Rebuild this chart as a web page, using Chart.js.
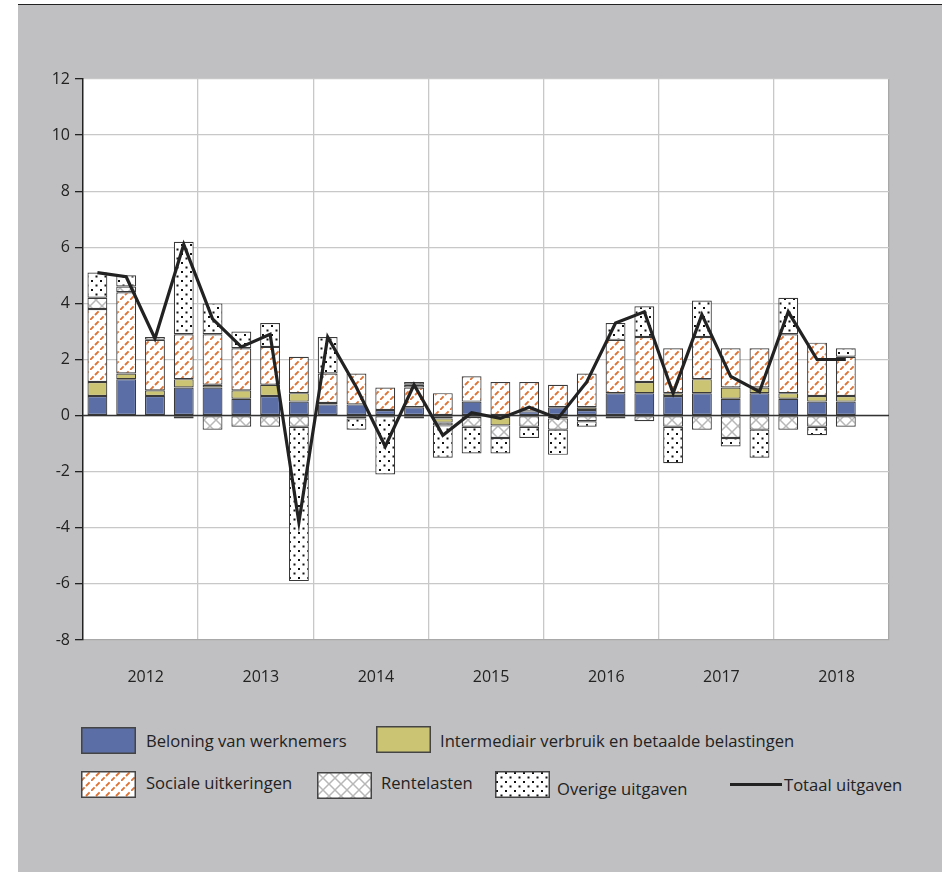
<!DOCTYPE html>
<html>
<head>
  <meta charset="utf-8">
  <script src="https://cdn.jsdelivr.net/npm/chart.js@4.4.0/dist/chart.umd.min.js"></script>
  <style>
    body {
      margin: 0;
      background: #fff;
      font-family: 'Open Sans', sans-serif;
      color: #222;
    }
    #panel {
      position: absolute;
      left: 18px;
      top: 4px;
      width: 924px;
      height: 868px;
      background: #c0c0c2;
      border-top: 1.5px solid #222;
    }
    #graph {
      position: absolute;
      left: 0;
      top: 0;
    }
    .item {
      position: absolute;
      font-size: 16.6px;
      line-height: 20px;
      white-space: nowrap;
    }
    .swatch {
      position: absolute;
    }
  </style>
</head>
<body>
  <div id='panel'></div>
  <canvas id="graph" width="942" height="700"></canvas>

  <canvas class='swatch' id='sw0' width="55" height="27" style='left:81px;top:727px;'></canvas>
  <span class='item' style='left:146px;top:731px;'>Beloning van werknemers</span>
  <canvas class='swatch' id='sw1' width="55" height="27" style='left:376px;top:726px;'></canvas>
  <span class='item' style='left:440px;top:731px;'>Intermediair verbruik en betaalde belastingen</span>
  <canvas class='swatch' id='sw2' width="55" height="27" style='left:81px;top:771px;'></canvas>
  <span class='item' style='left:146px;top:773px;'>Sociale uitkeringen</span>
  <canvas class='swatch' id='sw3' width="55" height="27" style='left:317px;top:772px;'></canvas>
  <span class='item' style='left:381px;top:773px;'>Rentelasten</span>
  <canvas class='swatch' id='sw4' width="55" height="27" style='left:495px;top:771px;'></canvas>
  <span class='item' style='left:557px;top:779px;'>Overige uitgaven</span>
  <div style='position:absolute;left:730px;top:783px;width:52px;height:3px;background:#222;'></div>
  <span class='item' style='left:784px;top:775px;'>Totaal uitgaven</span>

  <script>
    var quarters = ['2012 K1', '2012 K2', '2012 K3', '2012 K4',
      '2013 K1', '2013 K2', '2013 K3', '2013 K4',
      '2014 K1', '2014 K2', '2014 K3', '2014 K4',
      '2015 K1', '2015 K2', '2015 K3', '2015 K4',
      '2016 K1', '2016 K2', '2016 K3', '2016 K4',
      '2017 K1', '2017 K2', '2017 K3', '2017 K4',
      '2018 K1', '2018 K2', '2018 K3', '2018 K4'];

    var beloning = [0.7, 1.3, 0.7, 1.0, 1.0, 0.6, 0.7, 0.5, 0.4, 0.4, 0.2, 0.3, -0.1, 0.5,
      -0.05, 0.15, 0.3, 0.2, 0.8, 0.8, 0.7, 0.8, 0.6, 0.8, 0.6, 0.5, 0.5, null];
    var intermediair = [0.5, 0.2, 0.2, 0.3, 0.1, 0.3, 0.4, 0.3, 0.05, -0.1, null, -0.1, -0.15, -0.05,
      -0.3, null, -0.1, 0.1, -0.1, 0.4, 0.1, 0.5, 0.4, 0.2, 0.2, 0.2, 0.2, null];
    var sociale = [2.6, 2.9, 1.8, 1.6, 1.8, 1.5, 1.35, 1.3, 1.05, 1.1, 0.8, 0.7, 0.8, 0.9,
      1.2, 1.05, 0.8, 1.2, 1.9, 1.6, 1.6, 1.5, 1.4, 1.4, 2.1, 1.9, 1.4, null];
    var rentelasten = [0.4, 0.2, 0.1, -0.1, -0.5, -0.4, -0.4, -0.4, null, null, null, 0.1, -0.1, -0.35,
      -0.45, -0.4, -0.4, -0.2, null, -0.2, -0.4, -0.5, -0.8, -0.5, -0.5, -0.4, -0.4, null];
    var overige = [0.9, 0.4, null, 3.3, 1.1, 0.6, 0.85, -5.5, 1.3, -0.4, -2.1, 0.1, -1.15, -0.95,
      -0.55, -0.4, -0.9, -0.2, 0.6, 1.1, -1.3, 1.3, -0.3, -1.0, 1.3, -0.3, 0.3, null];
    var totaal = [5.1, 4.95, 2.75, 6.1, 3.45, 2.45, 2.9, -3.8, 2.8, 1.0, -1.1, 1.1, -0.7, 0.1,
      -0.1, 0.3, -0.1, 1.2, 3.3, 3.7, 0.8, 3.6, 1.4, 0.85, 3.7, 2.0, 2.0, null];

    var yTicks = { min: -8, max: 12, step: 2 };

    // little tiles for the hatched fills
    function makeTile(kind) {
      var c = document.createElement('canvas');
      var g = c.getContext('2d');
      if (kind == 'sociale') {
        c.width = 10; c.height = 10;
        g.fillStyle = '#fff';
        g.fillRect(0, 0, 10, 10);
        g.strokeStyle = '#dd7436';
        g.lineWidth = 1.9;
        g.lineCap = 'butt';
        g.beginPath();
        g.moveTo(0, 10); g.lineTo(3.6, 6.4);
        g.moveTo(5, 5); g.lineTo(8.6, 1.4);
        g.stroke();
      } else if (kind == 'rente') {
        c.width = 12; c.height = 12;
        g.fillStyle = '#fff';
        g.fillRect(0, 0, 12, 12);
        g.strokeStyle = '#b8b8b8';
        g.lineWidth = 1.5;
        g.beginPath();
        g.moveTo(0, 0); g.lineTo(12, 12);
        g.moveTo(12, 0); g.lineTo(0, 12);
        g.stroke();
      } else {
        c.width = 9; c.height = 9;
        g.fillStyle = '#fff';
        g.fillRect(0, 0, 9, 9);
        g.fillStyle = '#111';
        g.fillRect(1, 1, 2, 2);
        g.fillRect(5.5, 5.5, 2, 2);
      }
      return c;
    }

    var ctx = document.getElementById('graph').getContext('2d');
    var socialeFill = ctx.createPattern(makeTile('sociale'), 'repeat');
    var renteFill = ctx.createPattern(makeTile('rente'), 'repeat');
    var overigeFill = ctx.createPattern(makeTile('overige'), 'repeat');

    var whiteArea = {
      id: 'whiteArea',
      beforeDraw: function(chart) {
        var a = chart.chartArea;
        chart.ctx.save();
        chart.ctx.fillStyle = '#fff';
        chart.ctx.fillRect(a.left, a.top, a.right - a.left, a.bottom - a.top);
        chart.ctx.restore();
      },
      beforeDatasetDraw: function(chart, args) {
        // zero line over the bars but under the total line
        if (args.index !== 5) return;
        var a = chart.chartArea;
        var y0 = chart.scales.y.getPixelForValue(0);
        chart.ctx.save();
        chart.ctx.strokeStyle = '#333';
        chart.ctx.lineWidth = 1.5;
        chart.ctx.beginPath();
        chart.ctx.moveTo(a.left, y0);
        chart.ctx.lineTo(a.right, y0);
        chart.ctx.stroke();
        chart.ctx.restore();
      }
    };

    function barSet(label, data, fill) {
      return {
        type: 'bar',
        label: label,
        data: data,
        backgroundColor: fill,
        borderColor: '#3a3a3a',
        borderWidth: 1.2,
        borderSkipped: false,
        stack: 'uitgaven',
        order: 2
      };
    }

    Chart.defaults.font.family = "'Open Sans', sans-serif";
    Chart.defaults.font.size = 16;
    Chart.defaults.color = '#222';

    var chart = new Chart(ctx, {
      data: {
        labels: quarters,
        datasets: [
          barSet('Beloning van werknemers', beloning, '#5b6fa6'),
          barSet('Intermediair verbruik en betaalde belastingen', intermediair, '#cbc472'),
          barSet('Sociale uitkeringen', sociale, socialeFill),
          barSet('Rentelasten', rentelasten, renteFill),
          barSet('Overige uitgaven', overige, overigeFill),
          {
            type: 'line',
            label: 'Totaal uitgaven',
            data: totaal,
            borderColor: '#222',
            borderWidth: 3.2,
            borderJoinStyle: 'miter',
            pointRadius: 0,
            tension: 0,
            stack: 'totaal',
            order: 1
          }
        ]
      },
      options: {
        responsive: false,
        animation: false,
        layout: {
          padding: { left: 0, top: 79, right: 53, bottom: 0 }
        },
        plugins: {
          legend: { display: false },
          tooltip: { enabled: false }
        },
        datasets: {
          bar: { categoryPercentage: 1, barPercentage: 0.69 }
        },
        scales: {
          x: {
            stacked: true,
            offset: true,
            afterFit: function(scale) { scale.height = 60; },
            grid: {
              offset: true,
              drawTicks: false,
              lineWidth: 1.3,
              color: function(c) {
                if (c.index === undefined) return '#a8a8a8';
                return (c.index > 0 && c.index % 4 === 0) ? '#c8c8c8' : 'rgba(0,0,0,0)';
              }
            },
            border: { color: '#a8a8a8', width: 1.3 },
            ticks: {
              autoSkip: false,
              maxRotation: 0,
              padding: 28,
              labelOffset: 19.5,
              callback: function(v, i) {
                return i % 4 === 1 ? quarters[i].slice(0, 4) : '';
              }
            }
          },
          y: {
            stacked: true,
            min: yTicks.min,
            max: yTicks.max,
            afterFit: function(scale) { scale.width = 83; },
            grid: {
              color: '#c8c8c8',
              lineWidth: 1.3,
              tickColor: '#222',
              tickLength: 8
            },
            border: { color: '#222', width: 1.5 },
            ticks: {
              stepSize: yTicks.step,
              padding: 5
            }
          }
        }
      },
      plugins: [whiteArea]
    });

    // legend swatches with the same fills
    var swFills = ['#5b6fa6', '#cbc472', 'sociale', 'rente', 'overige'];
    for (var i = 0; i < swFills.length; i++) {
      var sc = document.getElementById('sw' + i);
      var g = sc.getContext('2d');
      if (swFills[i].charAt(0) == '#') {
        g.fillStyle = swFills[i];
      } else {
        g.fillStyle = g.createPattern(makeTile(swFills[i]), 'repeat');
      }
      g.fillRect(0, 0, sc.width, sc.height);
      g.strokeStyle = '#444';
      g.lineWidth = 1.5;
      g.strokeRect(0.75, 0.75, sc.width - 1.5, sc.height - 1.5);
    }
  </script>
</body>
</html>
